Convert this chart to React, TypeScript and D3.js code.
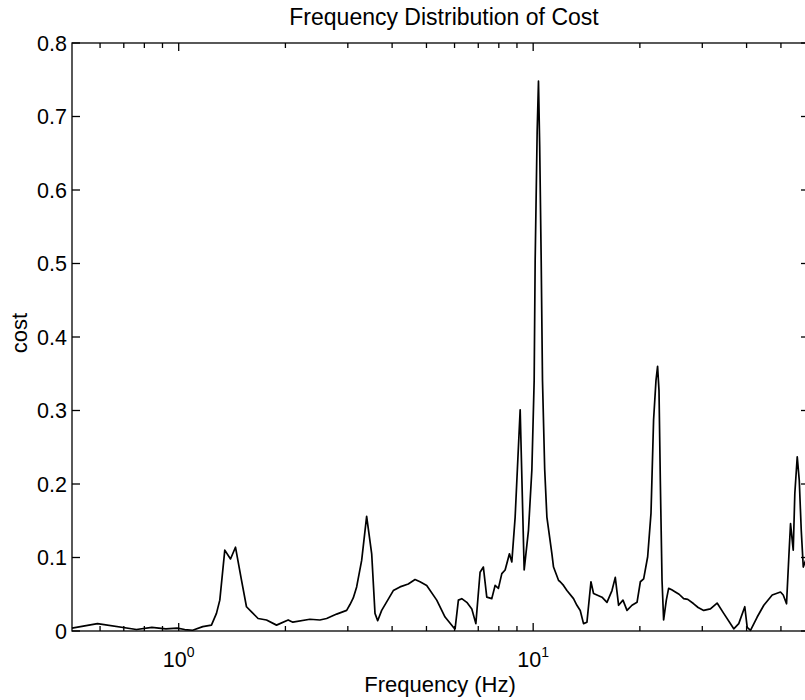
import React from "react";
import * as d3 from "d3";

// frequency (Hz) and cost values
const freqHz = [
  0.5, 0.59, 0.76, 0.84, 0.92, 0.99, 1.04, 1.095, 1.169, 1.237, 1.278, 1.306,
  1.349, 1.4, 1.446, 1.504, 1.553, 1.605, 1.675, 1.769, 1.888, 2.036, 2.099,
  2.345, 2.502, 2.614, 2.671, 2.79, 2.977, 3.042, 3.108, 3.177, 3.282, 3.39,
  3.503, 3.579, 3.642, 3.738, 4.031, 4.21, 4.443, 4.642, 4.795, 5.008, 5.345,
  5.642, 5.955, 6.021, 6.152, 6.289, 6.498, 6.713, 6.891, 7.083, 7.236, 7.398,
  7.642, 7.809, 7.979, 8.157, 8.334, 8.571, 8.705, 8.895, 9.19, 9.432, 9.699,
  9.915, 10.065, 10.13, 10.263, 10.351, 10.432, 10.535, 10.624, 10.777, 10.932,
  11.294, 11.413, 11.789, 11.92, 12.179, 12.451, 12.996, 13.286, 13.575, 13.87,
  14.18, 14.555, 14.802, 15.635, 16.151, 16.685, 17.047, 17.418, 17.921, 18.395,
  19.002, 19.635, 20.063, 20.497, 21.038, 21.497, 21.862, 22.207, 22.438,
  22.646, 22.84, 23.095, 23.336, 23.749, 24.107, 24.6, 25.18, 25.8, 26.584,
  27.3, 28.371, 29.2, 30.28, 31.623, 33.03, 34.482, 36.803, 38.018, 39.537,
  40.161, 41.031, 42.855, 44.738, 47.248, 49.858, 50.752, 51.852, 52.635,
  53.218, 54.158, 54.722, 55.587, 56.321, 57.054, 57.809, 58.678, 59.43,
];
const cost = [
  0.004, 0.01, 0.002, 0.005, 0.003, 0.004, 0.002, 0.001, 0.006, 0.008, 0.024,
  0.042, 0.11, 0.098, 0.114, 0.069, 0.033, 0.026, 0.017, 0.015, 0.008, 0.015,
  0.012, 0.016, 0.015, 0.017, 0.019, 0.023, 0.028, 0.036, 0.045, 0.06, 0.096,
  0.156, 0.105, 0.024, 0.014, 0.028, 0.055, 0.06, 0.064, 0.07, 0.067, 0.062,
  0.042, 0.019, 0.005, 0.003, 0.042, 0.044, 0.039, 0.03, 0.01, 0.08, 0.087,
  0.046, 0.044, 0.062, 0.058, 0.078, 0.083, 0.105, 0.094, 0.155, 0.301, 0.083,
  0.137, 0.219, 0.341, 0.504, 0.68, 0.748, 0.66, 0.504, 0.341, 0.22, 0.155,
  0.105, 0.087, 0.069, 0.067, 0.062, 0.055, 0.044, 0.035, 0.028, 0.01, 0.012,
  0.067, 0.051, 0.046, 0.039, 0.055, 0.073, 0.035, 0.042, 0.028, 0.035, 0.039,
  0.067, 0.071, 0.101, 0.16, 0.287, 0.341, 0.36, 0.327, 0.205, 0.069, 0.015,
  0.042, 0.058, 0.056, 0.053, 0.05, 0.044, 0.043, 0.037, 0.032, 0.028, 0.03,
  0.038, 0.024, 0.003, 0.01, 0.033, 0.005, 0.001, 0.019, 0.035, 0.049, 0.053,
  0.049, 0.037, 0.101, 0.146, 0.11, 0.187, 0.237, 0.205, 0.137, 0.087, 0.096,
  0.09,
];

const majorTicks = [1, 10];
const minorTicks = [0.6, 0.7, 0.8, 0.9, 2, 3, 4, 5, 6, 7, 8, 9, 20, 30, 40, 50];
const yTicks = [0, 0.1, 0.2, 0.3, 0.4, 0.5, 0.6, 0.7, 0.8];

const W = 805;
const H = 700;
const left = 72;
const right = 809;
const top = 43;
const bottom = 631;
const font = "'Liberation Sans', Arial, Helvetica, sans-serif";

export default function App() {
  const x = d3.scaleLog().domain([0.5, 60]).range([left, right]);
  const y = d3.scaleLinear().domain([0, 0.8]).range([bottom, top]);

  const data = freqHz.map((f, i) => ({ f, c: cost[i] }));
  const line = d3
    .line<{ f: number; c: number }>()
    .x((d) => x(d.f))
    .y((d) => y(d.c));

  return (
    <svg
      width={W}
      height={H}
      style={{ position: "absolute", left: 0, top: 0, background: "#fff" }}
      fontFamily={font}
    >
      <rect x={0} y={0} width={W} height={H} fill="#fff" />
      {/* box */}
      <rect
        x={left}
        y={top}
        width={right - left}
        height={bottom - top}
        fill="none"
        stroke="#000"
        strokeWidth={1.3}
      />
      {/* x ticks, top and bottom, pointing in */}
      {majorTicks.map((t) => (
        <g key={"M" + t}>
          <line x1={x(t)} x2={x(t)} y1={bottom} y2={bottom - 8} stroke="#000" strokeWidth={1.3} />
          <line x1={x(t)} x2={x(t)} y1={top} y2={top + 8} stroke="#000" strokeWidth={1.3} />
        </g>
      ))}
      {minorTicks.map((t) => (
        <g key={"m" + t}>
          <line x1={x(t)} x2={x(t)} y1={bottom} y2={bottom - 5} stroke="#000" strokeWidth={1.3} />
          <line x1={x(t)} x2={x(t)} y1={top} y2={top + 5} stroke="#000" strokeWidth={1.3} />
        </g>
      ))}
      {/* y ticks left and right */}
      {yTicks.map((t) => (
        <g key={"y" + t}>
          <line x1={left} x2={left + 8} y1={y(t)} y2={y(t)} stroke="#000" strokeWidth={1.3} />
          <line x1={right} x2={right - 8} y1={y(t)} y2={y(t)} stroke="#000" strokeWidth={1.3} />
          <text
            x={left - 5}
            y={y(t)}
            dy="0.36em"
            textAnchor="end"
            fontSize={21.5}
          >
            {t === 0 ? "0" : d3.format(".1f")(t)}
          </text>
        </g>
      ))}
      {/* x tick labels as powers of ten */}
      {majorTicks.map((t) => (
        <text key={"l" + t} x={x(t)} y={667} textAnchor="middle" fontSize={21.5}>
          10
          <tspan dy={-10} fontSize={14}>
            {Math.round(Math.log10(t))}
          </tspan>
        </text>
      ))}
      {/* data */}
      <path d={line(data) ?? ""} fill="none" stroke="#000" strokeWidth={1.7} strokeLinejoin="round" />
      {/* labels */}
      <text x={444} y={25} textAnchor="middle" fontSize={23}>
        Frequency Distribution of Cost
      </text>
      <text x={440} y={692} textAnchor="middle" fontSize={22}>
        Frequency (Hz)
      </text>
      <text
        transform={`translate(27,333) rotate(-90)`}
        textAnchor="middle"
        fontSize={22}
      >
        cost
      </text>
    </svg>
  );
}
